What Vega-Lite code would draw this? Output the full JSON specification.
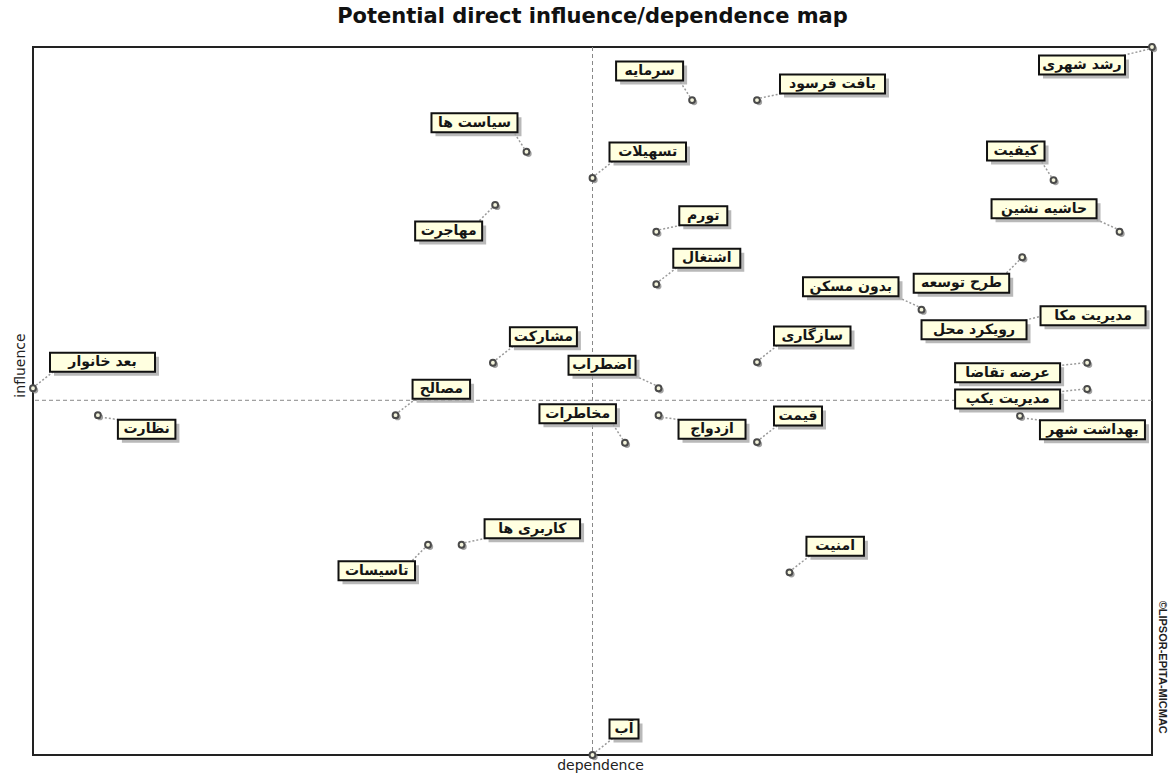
{
  "$schema": "https://vega.github.io/schema/vega-lite/v6.json",
  "width": 1119,
  "height": 708,
  "autosize": {"type": "none"},
  "padding": {"left": 33, "top": 47, "right": 23, "bottom": 23},
  "background": "white",
  "title": {"text": "Potential direct influence/dependence map", "font": "DejaVu Sans", "fontSize": 21, "fontWeight": "bold", "frame": "group", "offset": 13, "color": "#111"},
  "data": {"values": [
    {"name": "رشد شهری", "dependence": 100, "influence": 100},
    {"name": "سرمایه", "dependence": 58.9, "influence": 92.5},
    {"name": "بافت فرسود", "dependence": 64.7, "influence": 92.5},
    {"name": "سیاست ها", "dependence": 44.1, "influence": 85.2},
    {"name": "تسهیلات", "dependence": 50.0, "influence": 81.5},
    {"name": "کیفیت", "dependence": 91.2, "influence": 81.2},
    {"name": "مهاجرت", "dependence": 41.3, "influence": 77.7},
    {"name": "تورم", "dependence": 55.7, "influence": 73.9},
    {"name": "حاشیه نشین", "dependence": 97.1, "influence": 73.9},
    {"name": "اشتغال", "dependence": 55.7, "influence": 66.5},
    {"name": "طرح توسعه", "dependence": 88.4, "influence": 70.3},
    {"name": "بدون مسکن", "dependence": 79.4, "influence": 62.9},
    {"name": "مدیریت مکا", "dependence": 91.2, "influence": 62.9},
    {"name": "رویکرد محل", "dependence": 91.2, "influence": 62.6},
    {"name": "سازگاری", "dependence": 64.7, "influence": 55.5},
    {"name": "مشارکت", "dependence": 41.1, "influence": 55.4},
    {"name": "اضطراب", "dependence": 55.9, "influence": 51.8},
    {"name": "بعد خانوار", "dependence": 0, "influence": 51.8},
    {"name": "مصالح", "dependence": 32.4, "influence": 48.0},
    {"name": "عرضه تقاضا", "dependence": 94.2, "influence": 55.4},
    {"name": "مدیریت یکپ", "dependence": 94.2, "influence": 51.7},
    {"name": "بهداشت شهر", "dependence": 88.2, "influence": 47.9},
    {"name": "نظارت", "dependence": 5.8, "influence": 48.0},
    {"name": "مخاطرات", "dependence": 52.9, "influence": 44.1},
    {"name": "ازدواج", "dependence": 55.9, "influence": 48.0},
    {"name": "قیمت", "dependence": 64.7, "influence": 44.2},
    {"name": "کاربری ها", "dependence": 38.3, "influence": 29.7},
    {"name": "تاسیسات", "dependence": 35.3, "influence": 29.7},
    {"name": "امنیت", "dependence": 67.6, "influence": 25.8},
    {"name": "آب", "dependence": 50.0, "influence": 0}
  ]},
  "layer": [
    {"data": {"values": [{}]}, "mark": {"type": "rule", "color": "#888", "strokeDash": [4, 3], "strokeWidth": 1}, "encoding": {"x": {"datum": 50, "type": "quantitative", "scale": {"domain": [0, 100], "nice": false, "zero": false}}}},
    {"data": {"values": [{}]}, "mark": {"type": "rule", "color": "#888", "strokeDash": [4, 3], "strokeWidth": 1}, "encoding": {"y": {"datum": 50.1, "type": "quantitative", "scale": {"domain": [0, 100], "nice": false, "zero": false}}}},
    {"data": {"values": [{}]}, "mark": {"type": "text", "angle": 90, "align": "center", "baseline": "middle", "font": "Liberation Sans", "fontSize": 11, "fontWeight": "bold", "fill": "#222", "xOffset": 10, "text": "©LIPSOR-EPITA-MICMAC"}, "encoding": {"x": {"datum": 100, "type": "quantitative"}, "y": {"datum": 12.4, "type": "quantitative"}}},
    {
      "encoding": {
        "x": {"field": "dependence", "type": "quantitative", "scale": {"domain": [0, 100], "nice": false, "zero": false}, "axis": {"title": "dependence", "titlePadding": 3, "titleX": 567}},
        "y": {"field": "influence", "type": "quantitative", "scale": {"domain": [0, 100], "nice": false, "zero": false}, "axis": {"title": "influence", "titleX": -13, "titleY": 318, "titleBaseline": "middle", "titleAngle": -90, "titleAlign": "center"}}
      },
      "layer": [
        {"mark": {"type": "circle", "fill": "#8a8a8a", "size": 40, "opacity": 0.8, "xOffset": 2, "yOffset": 2}},
        {"mark": {"type": "circle", "fill": "#f4f4dc", "stroke": "#4a4a4a", "strokeWidth": 2, "size": 34, "opacity": 1}},
        {
          "transform": [{"filter": {"field": "name", "oneOf": ["تسهیلات", "اشتغال", "سازگاری", "مشارکت", "بعد خانوار", "مصالح", "قیمت", "امنیت", "آب"]}}],
          "layer": [
            {"mark": {"type": "rule", "color": "#9a9a9a", "strokeDash": [2, 2], "strokeWidth": 1.5, "xOffset": 3, "yOffset": -3, "x2Offset": 21, "y2Offset": -17}, "encoding": {"x2": {"field": "dependence"}, "y2": {"field": "influence"}}},
            {"mark": {"type": "rect", "fill": "#a8a8a8", "opacity": 0.8, "xOffset": 21, "x2Offset": {"expr": "21+(9.5*length(datum.name)+10)"}, "yOffset": -31.5, "y2Offset": -12.5}, "encoding": {"x2": {"field": "dependence"}, "y2": {"field": "influence"}}},
            {"mark": {"type": "rect", "fill": "#ffffe0", "stroke": "#111", "strokeWidth": 2, "xOffset": 17, "x2Offset": {"expr": "17+(9.5*length(datum.name)+10)"}, "yOffset": -35.5, "y2Offset": -16.5}, "encoding": {"x2": {"field": "dependence"}, "y2": {"field": "influence"}}},
            {"mark": {"type": "text", "align": "center", "baseline": "middle", "font": "DejaVu Sans", "fontSize": 14, "fontWeight": "bold", "fill": "#151515", "dx": {"expr": "17+(9.5*length(datum.name)+10)/2"}, "dy": -26}, "encoding": {"text": {"field": "name"}}}
          ]
        },
        {
          "transform": [{"filter": {"field": "name", "oneOf": ["بافت فرسود", "تورم", "کاربری ها"]}}],
          "layer": [
            {"mark": {"type": "rule", "color": "#9a9a9a", "strokeDash": [2, 2], "strokeWidth": 1.5, "xOffset": 3, "yOffset": -2, "x2Offset": 27, "y2Offset": -7}, "encoding": {"x2": {"field": "dependence"}, "y2": {"field": "influence"}}},
            {"mark": {"type": "rect", "fill": "#a8a8a8", "opacity": 0.8, "xOffset": 27, "x2Offset": {"expr": "27+(9.5*length(datum.name)+10)"}, "yOffset": -21.5, "y2Offset": -2.5}, "encoding": {"x2": {"field": "dependence"}, "y2": {"field": "influence"}}},
            {"mark": {"type": "rect", "fill": "#ffffe0", "stroke": "#111", "strokeWidth": 2, "xOffset": 23, "x2Offset": {"expr": "23+(9.5*length(datum.name)+10)"}, "yOffset": -25.5, "y2Offset": -6.5}, "encoding": {"x2": {"field": "dependence"}, "y2": {"field": "influence"}}},
            {"mark": {"type": "text", "align": "center", "baseline": "middle", "font": "DejaVu Sans", "fontSize": 14, "fontWeight": "bold", "fill": "#151515", "dx": {"expr": "23+(9.5*length(datum.name)+10)/2"}, "dy": -16}, "encoding": {"text": {"field": "name"}}}
          ]
        },
        {
          "transform": [{"filter": {"field": "name", "oneOf": ["بهداشت شهر", "نظارت", "ازدواج"]}}],
          "layer": [
            {"mark": {"type": "rule", "color": "#9a9a9a", "strokeDash": [2, 2], "strokeWidth": 1.5, "xOffset": 3, "yOffset": 2, "x2Offset": 24, "y2Offset": 5}, "encoding": {"x2": {"field": "dependence"}, "y2": {"field": "influence"}}},
            {"mark": {"type": "rect", "fill": "#a8a8a8", "opacity": 0.8, "xOffset": 24, "x2Offset": {"expr": "24+(9.5*length(datum.name)+10)"}, "yOffset": 8.5, "y2Offset": 27.5}, "encoding": {"x2": {"field": "dependence"}, "y2": {"field": "influence"}}},
            {"mark": {"type": "rect", "fill": "#ffffe0", "stroke": "#111", "strokeWidth": 2, "xOffset": 20, "x2Offset": {"expr": "20+(9.5*length(datum.name)+10)"}, "yOffset": 4.5, "y2Offset": 23.5}, "encoding": {"x2": {"field": "dependence"}, "y2": {"field": "influence"}}},
            {"mark": {"type": "text", "align": "center", "baseline": "middle", "font": "DejaVu Sans", "fontSize": 14, "fontWeight": "bold", "fill": "#151515", "dx": {"expr": "20+(9.5*length(datum.name)+10)/2"}, "dy": 14}, "encoding": {"text": {"field": "name"}}}
          ]
        },
        {
          "transform": [{"filter": {"field": "name", "oneOf": ["سرمایه", "سیاست ها", "کیفیت", "مخاطرات"]}}],
          "layer": [
            {"mark": {"type": "rule", "color": "#9a9a9a", "strokeDash": [2, 2], "strokeWidth": 1.5, "xOffset": -2, "yOffset": -3, "x2Offset": -13, "y2Offset": -20}, "encoding": {"x2": {"field": "dependence"}, "y2": {"field": "influence"}}},
            {"mark": {"type": "rect", "fill": "#a8a8a8", "opacity": 0.8, "xOffset": {"expr": "4-(9+(9.5*length(datum.name)+10))"}, "x2Offset": -5, "yOffset": -34.5, "y2Offset": -15.5}, "encoding": {"x2": {"field": "dependence"}, "y2": {"field": "influence"}}},
            {"mark": {"type": "rect", "fill": "#ffffe0", "stroke": "#111", "strokeWidth": 2, "xOffset": {"expr": "-(9+(9.5*length(datum.name)+10))"}, "x2Offset": -9, "yOffset": -38.5, "y2Offset": -19.5}, "encoding": {"x2": {"field": "dependence"}, "y2": {"field": "influence"}}},
            {"mark": {"type": "text", "align": "center", "baseline": "middle", "font": "DejaVu Sans", "fontSize": 14, "fontWeight": "bold", "fill": "#151515", "dx": {"expr": "-(9+(9.5*length(datum.name)+10)/2)"}, "dy": -29}, "encoding": {"text": {"field": "name"}}}
          ]
        },
        {
          "transform": [{"filter": {"field": "name", "oneOf": ["حاشیه نشین", "بدون مسکن", "اضطراب"]}}],
          "layer": [
            {"mark": {"type": "rule", "color": "#9a9a9a", "strokeDash": [2, 2], "strokeWidth": 1.5, "xOffset": -3, "yOffset": -3, "x2Offset": -27, "y2Offset": -14}, "encoding": {"x2": {"field": "dependence"}, "y2": {"field": "influence"}}},
            {"mark": {"type": "rect", "fill": "#a8a8a8", "opacity": 0.8, "xOffset": {"expr": "4-(23+(9.5*length(datum.name)+10))"}, "x2Offset": -19, "yOffset": -28.5, "y2Offset": -9.5}, "encoding": {"x2": {"field": "dependence"}, "y2": {"field": "influence"}}},
            {"mark": {"type": "rect", "fill": "#ffffe0", "stroke": "#111", "strokeWidth": 2, "xOffset": {"expr": "-(23+(9.5*length(datum.name)+10))"}, "x2Offset": -23, "yOffset": -32.5, "y2Offset": -13.5}, "encoding": {"x2": {"field": "dependence"}, "y2": {"field": "influence"}}},
            {"mark": {"type": "text", "align": "center", "baseline": "middle", "font": "DejaVu Sans", "fontSize": 14, "fontWeight": "bold", "fill": "#151515", "dx": {"expr": "-(23+(9.5*length(datum.name)+10)/2)"}, "dy": -23}, "encoding": {"text": {"field": "name"}}}
          ]
        },
        {
          "transform": [{"filter": {"field": "name", "oneOf": ["مهاجرت", "طرح توسعه", "تاسیسات"]}}],
          "layer": [
            {"mark": {"type": "rule", "color": "#9a9a9a", "strokeDash": [2, 2], "strokeWidth": 1.5, "xOffset": -3, "yOffset": 3, "x2Offset": -17, "y2Offset": 17}, "encoding": {"x2": {"field": "dependence"}, "y2": {"field": "influence"}}},
            {"mark": {"type": "rect", "fill": "#a8a8a8", "opacity": 0.8, "xOffset": {"expr": "4-(13+(9.5*length(datum.name)+10))"}, "x2Offset": -9, "yOffset": 20.5, "y2Offset": 39.5}, "encoding": {"x2": {"field": "dependence"}, "y2": {"field": "influence"}}},
            {"mark": {"type": "rect", "fill": "#ffffe0", "stroke": "#111", "strokeWidth": 2, "xOffset": {"expr": "-(13+(9.5*length(datum.name)+10))"}, "x2Offset": -13, "yOffset": 16.5, "y2Offset": 35.5}, "encoding": {"x2": {"field": "dependence"}, "y2": {"field": "influence"}}},
            {"mark": {"type": "text", "align": "center", "baseline": "middle", "font": "DejaVu Sans", "fontSize": 14, "fontWeight": "bold", "fill": "#151515", "dx": {"expr": "-(13+(9.5*length(datum.name)+10)/2)"}, "dy": 26}, "encoding": {"text": {"field": "name"}}}
          ]
        },
        {
          "transform": [{"filter": {"field": "name", "oneOf": ["رشد شهری", "رویکرد محل"]}}],
          "layer": [
            {"mark": {"type": "rule", "color": "#9a9a9a", "strokeDash": [2, 2], "strokeWidth": 1.5, "xOffset": -3, "yOffset": 2, "x2Offset": -31, "y2Offset": 9}, "encoding": {"x2": {"field": "dependence"}, "y2": {"field": "influence"}}},
            {"mark": {"type": "rect", "fill": "#a8a8a8", "opacity": 0.8, "xOffset": {"expr": "4-(27+(9.5*length(datum.name)+10))"}, "x2Offset": -23, "yOffset": 12.5, "y2Offset": 31.5}, "encoding": {"x2": {"field": "dependence"}, "y2": {"field": "influence"}}},
            {"mark": {"type": "rect", "fill": "#ffffe0", "stroke": "#111", "strokeWidth": 2, "xOffset": {"expr": "-(27+(9.5*length(datum.name)+10))"}, "x2Offset": -27, "yOffset": 8.5, "y2Offset": 27.5}, "encoding": {"x2": {"field": "dependence"}, "y2": {"field": "influence"}}},
            {"mark": {"type": "text", "align": "center", "baseline": "middle", "font": "DejaVu Sans", "fontSize": 14, "fontWeight": "bold", "fill": "#151515", "dx": {"expr": "-(27+(9.5*length(datum.name)+10)/2)"}, "dy": 18}, "encoding": {"text": {"field": "name"}}}
          ]
        },
        {
          "transform": [{"filter": {"field": "name", "oneOf": ["عرضه تقاضا", "مدیریت یکپ"]}}],
          "layer": [
            {"mark": {"type": "rule", "color": "#9a9a9a", "strokeDash": [2, 2], "strokeWidth": 1.5, "xOffset": -3, "yOffset": 0, "x2Offset": -29, "y2Offset": 3}, "encoding": {"x2": {"field": "dependence"}, "y2": {"field": "influence"}}},
            {"mark": {"type": "rect", "fill": "#a8a8a8", "opacity": 0.8, "xOffset": {"expr": "4-(27+(9.5*length(datum.name)+10))"}, "x2Offset": -23, "yOffset": 4.5, "y2Offset": 23.5}, "encoding": {"x2": {"field": "dependence"}, "y2": {"field": "influence"}}},
            {"mark": {"type": "rect", "fill": "#ffffe0", "stroke": "#111", "strokeWidth": 2, "xOffset": {"expr": "-(27+(9.5*length(datum.name)+10))"}, "x2Offset": -27, "yOffset": 0.5, "y2Offset": 19.5}, "encoding": {"x2": {"field": "dependence"}, "y2": {"field": "influence"}}},
            {"mark": {"type": "text", "align": "center", "baseline": "middle", "font": "DejaVu Sans", "fontSize": 14, "fontWeight": "bold", "fill": "#151515", "dx": {"expr": "-(27+(9.5*length(datum.name)+10)/2)"}, "dy": 10}, "encoding": {"text": {"field": "name"}}}
          ]
        },
        {
          "transform": [{"filter": {"field": "name", "oneOf": ["مدیریت مکا"]}}],
          "layer": [
            {"mark": {"type": "rect", "fill": "#a8a8a8", "opacity": 0.8, "xOffset": -9, "x2Offset": {"expr": "-9+(9.5*length(datum.name)+10)"}, "yOffset": 0.5, "y2Offset": 19.5}, "encoding": {"x2": {"field": "dependence"}, "y2": {"field": "influence"}}},
            {"mark": {"type": "rect", "fill": "#ffffe0", "stroke": "#111", "strokeWidth": 2, "xOffset": -13, "x2Offset": {"expr": "-13+(9.5*length(datum.name)+10)"}, "yOffset": -3.5, "y2Offset": 15.5}, "encoding": {"x2": {"field": "dependence"}, "y2": {"field": "influence"}}},
            {"mark": {"type": "text", "align": "center", "baseline": "middle", "font": "DejaVu Sans", "fontSize": 14, "fontWeight": "bold", "fill": "#151515", "dx": {"expr": "-13+(9.5*length(datum.name)+10)/2"}, "dy": 6}, "encoding": {"text": {"field": "name"}}}
          ]
        }
      ]
    }
  ],
  "config": {
    "view": {"stroke": "#222", "strokeWidth": 2},
    "axis": {"grid": false, "ticks": false, "labels": false, "domain": false, "titleFont": "DejaVu Sans", "titleFontSize": 14, "titleFontWeight": "normal", "titleColor": "#222"}
  }
}
